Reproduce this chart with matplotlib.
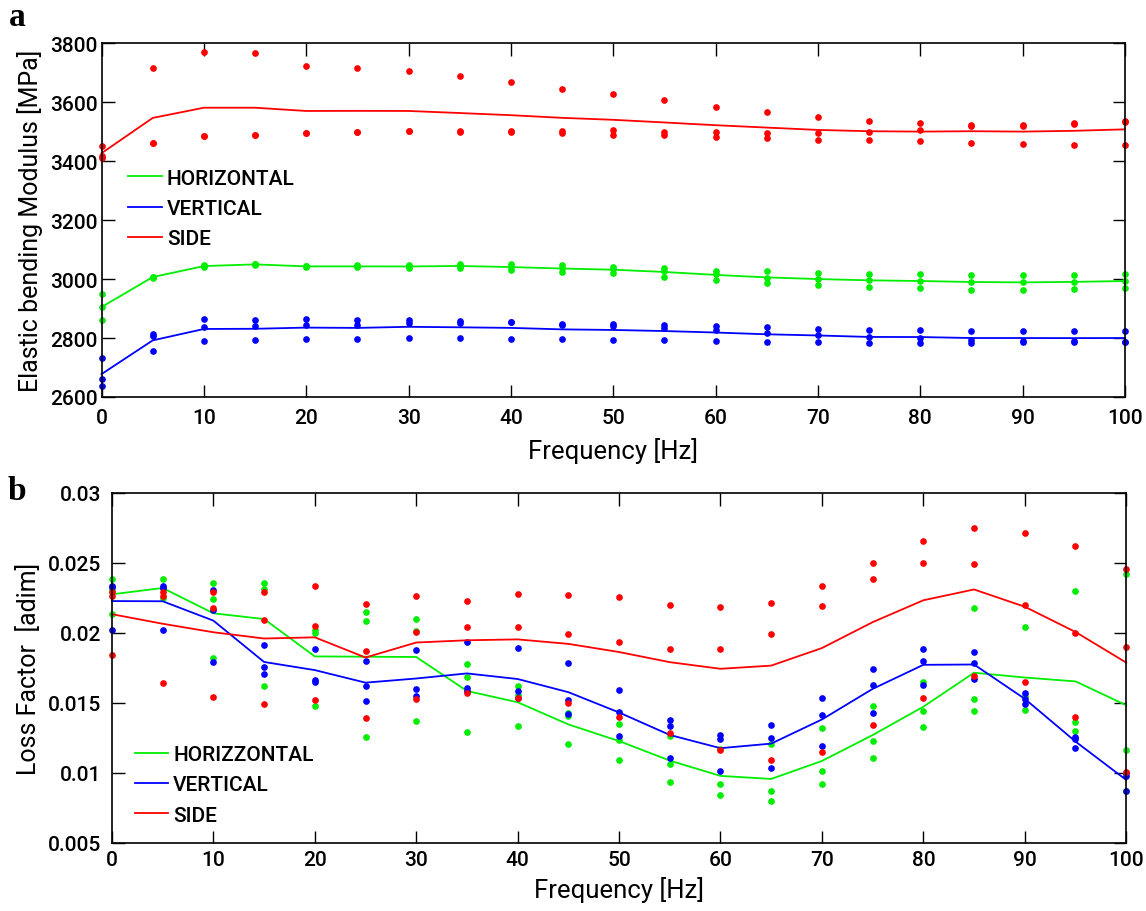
import matplotlib
matplotlib.use("Agg")
import matplotlib.pyplot as plt
import numpy as np

freqs = list(range(0, 101, 5))

# elastic bending modulus [MPa], three samples per frequency
e_horizontal = [
    (2948, 2905, 2862), (3005, 3007, 3008), (3047, 3044, 3041), (3050, 3048, 3051),
    (3045, 3043, 3041), (3046, 3043, 3040), (3046, 3043, 3039), (3052, 3045, 3036),
    (3051, 3042, 3029), (3046, 3036, 3025), (3042, 3034, 3019), (3036, 3028, 3008),
    (3028, 3016, 2998), (3026, 3004, 2987), (3020, 2999, 2981), (3017, 2997, 2973),
    (3018, 2993, 2969), (3015, 2991, 2964), (3013, 2989, 2964), (3013, 2991, 2967),
    (3017, 2994, 2969),
]
e_vertical = [
    (2733, 2662, 2638), (2814, 2807, 2755), (2863, 2838, 2791), (2860, 2841, 2793),
    (2864, 2845, 2797), (2861, 2845, 2797), (2862, 2852, 2800), (2857, 2852, 2800),
    (2853, 2853, 2797), (2848, 2845, 2795), (2847, 2841, 2794), (2845, 2834, 2792),
    (2840, 2827, 2789), (2836, 2817, 2785), (2830, 2811, 2785), (2826, 2803, 2782),
    (2826, 2801, 2783), (2824, 2794, 2782), (2824, 2789, 2787), (2824, 2789, 2786),
    (2824, 2788, 2788),
]
e_side = [
    (3451, 3418, 3411), (3715, 3462, 3462), (3771, 3486, 3486), (3767, 3488, 3488),
    (3722, 3494, 3494), (3715, 3498, 3498), (3704, 3503, 3503), (3687, 3503, 3499),
    (3667, 3503, 3497), (3643, 3503, 3494), (3626, 3505, 3489), (3606, 3500, 3487),
    (3585, 3498, 3482), (3566, 3496, 3479), (3548, 3496, 3473), (3535, 3499, 3470),
    (3528, 3505, 3467), (3523, 3519, 3462), (3523, 3519, 3458), (3528, 3525, 3455),
    (3535, 3533, 3455),
]

# loss factor [adim]
lf_horizontal = [
    (0.02388, 0.02304, 0.02136), (0.02388, 0.02324, 0.02251), (0.02357, 0.02243, 0.01821),
    (0.02357, 0.02317, 0.01624), (0.02021, 0.02000, 0.01476), (0.02148, 0.02088, 0.01255),
    (0.02100, 0.02016, 0.01369), (0.01779, 0.01688, 0.01290), (0.01620, 0.01557, 0.01338),
    (0.01430, 0.01405, 0.01205), (0.01352, 0.01238, 0.01093), (0.01267, 0.01062, 0.00936),
    (0.01172, 0.00924, 0.00841), (0.01205, 0.00869, 0.00798), (0.01319, 0.01014, 0.00924),
    (0.01476, 0.01231, 0.01105), (0.01648, 0.01445, 0.01326), (0.02176, 0.01531, 0.01441),
    (0.02045, 0.01548, 0.01452), (0.02298, 0.01362, 0.01302), (0.02419, 0.01164, 0.00869),
]
lf_vertical = [
    (0.02336, 0.02326, 0.02021), (0.02338, 0.02320, 0.02021), (0.02305, 0.02166, 0.01793),
    (0.01912, 0.01759, 0.01707), (0.01888, 0.01664, 0.01652), (0.01802, 0.01621, 0.01512),
    (0.01876, 0.01598, 0.01550), (0.01936, 0.01609, 0.01588), (0.01893, 0.01586, 0.01534),
    (0.01786, 0.01521, 0.01424), (0.01593, 0.01436, 0.01267), (0.01376, 0.01333, 0.01105),
    (0.01274, 0.01243, 0.01014), (0.01345, 0.01250, 0.01034), (0.01534, 0.01417, 0.01195),
    (0.01743, 0.01629, 0.01429), (0.01884, 0.01802, 0.01631), (0.01864, 0.01786, 0.01674),
    (0.01569, 0.01529, 0.01491), (0.01255, 0.01243, 0.01176), (0.01000, 0.00980, 0.00871),
]
lf_side = [
    (0.02295, 0.02262, 0.01845), (0.02290, 0.02262, 0.01645), (0.02293, 0.02179, 0.01543),
    (0.02293, 0.02093, 0.01495), (0.02333, 0.02052, 0.01521), (0.02207, 0.01874, 0.01393),
    (0.02262, 0.02007, 0.01526), (0.02231, 0.02043, 0.01569), (0.02279, 0.02045, 0.01538),
    (0.02271, 0.01995, 0.01500), (0.02255, 0.01936, 0.01400), (0.02200, 0.01888, 0.01286),
    (0.02184, 0.01884, 0.01164), (0.02212, 0.01995, 0.01093), (0.02333, 0.02195, 0.01148),
    (0.02498, 0.02388, 0.01345), (0.02660, 0.02502, 0.01538), (0.02748, 0.02491, 0.01693),
    (0.02714, 0.02200, 0.01648), (0.02620, 0.02001, 0.01400), (0.02459, 0.01900, 0.01007),
]

e_ticks = [2600, 2800, 3000, 3200, 3400, 3600, 3800]
lf_ticks = [0.005, 0.01, 0.015, 0.02, 0.025, 0.03]
lf_ticklabels = ["0.005", "0.01", "0.015", "0.02", "0.025", "0.03"]
x_ticks = list(range(0, 101, 10))

plt.rcParams['font.family'] = ['Roboto', 'DejaVu Sans']
plt.rcParams['font.weight'] = 'medium'

GREEN = "#00ee00"
BLUE = "#0000ff"
RED = "#ff0000"

fig = plt.figure(figsize=(11.46, 9.12), dpi=100)
ax1 = fig.add_axes([0.0886, 0.5636, 0.893, 0.388])
ax2 = fig.add_axes([0.0977, 0.0746, 0.885, 0.3838])


def draw(ax, series, labels):
    x = np.array(freqs)
    for data, label, col in zip(series, labels, [GREEN, BLUE, RED]):
        arr = np.array(data)
        ax.plot(x, arr.mean(axis=1), color=col, lw=1.3, label=label, clip_on=False)
        for k in range(arr.shape[1]):
            ax.plot(x, arr[:, k], ls="none", marker="o", ms=3.8, color=col,
                    mec=col, clip_on=False)


def style(ax, xpad, ypad):
    ax.set_xlim(0, 100)
    ax.set_xticks(x_ticks)
    ax.tick_params(direction="in", length=9, width=1, top=True, right=True,
                   labelsize=15)
    ax.tick_params(axis="x", pad=xpad)
    ax.tick_params(axis="y", pad=ypad)
    for s in ax.spines.values():
        s.set_linewidth(1.2)


draw(ax1, [e_horizontal, e_vertical, e_side], ["HORIZONTAL", "VERTICAL", "SIDE"])
style(ax1, 8, 3)
ax1.set_ylim(2600, 3800)
ax1.set_yticks(e_ticks)
ax1.set_xlabel("Frequency [Hz]", fontsize=18.5, labelpad=7)
ax1.set_ylabel("Elastic bending Modulus [MPa]", fontsize=18, labelpad=5)
ax1.legend(loc="upper left", bbox_to_anchor=(0.016, 0.675), frameon=False,
           fontsize=15, handlelength=1.6, handletextpad=0.25, labelspacing=0.55,
           borderpad=0)

draw(ax2, [lf_horizontal, lf_vertical, lf_side], ["HORIZZONTAL", "VERTICAL", "SIDE"])
style(ax2, 5, 8)
ax2.set_ylim(0.005, 0.03)
ax2.set_yticks(lf_ticks)
ax2.set_yticklabels(lf_ticklabels)
ax2.set_xlabel("Frequency [Hz]", fontsize=18.5, labelpad=5)
ax2.set_ylabel("Loss Factor  [adim]", fontsize=18, labelpad=5)
ax2.legend(loc="upper left", bbox_to_anchor=(0.012, 0.31), frameon=False,
           fontsize=15, handlelength=1.6, handletextpad=0.25, labelspacing=0.55,
           borderpad=0)

fig.text(17 / 1146, 1 - 18 / 912, "a", fontsize=24, fontweight="bold",
         family="Liberation Serif", ha="center", va="center")
fig.text(17 / 1146, 1 - 492 / 912, "b", fontsize=24, fontweight="bold",
         family="Liberation Serif", ha="center", va="center")

fig.savefig("out.png", dpi=100)
